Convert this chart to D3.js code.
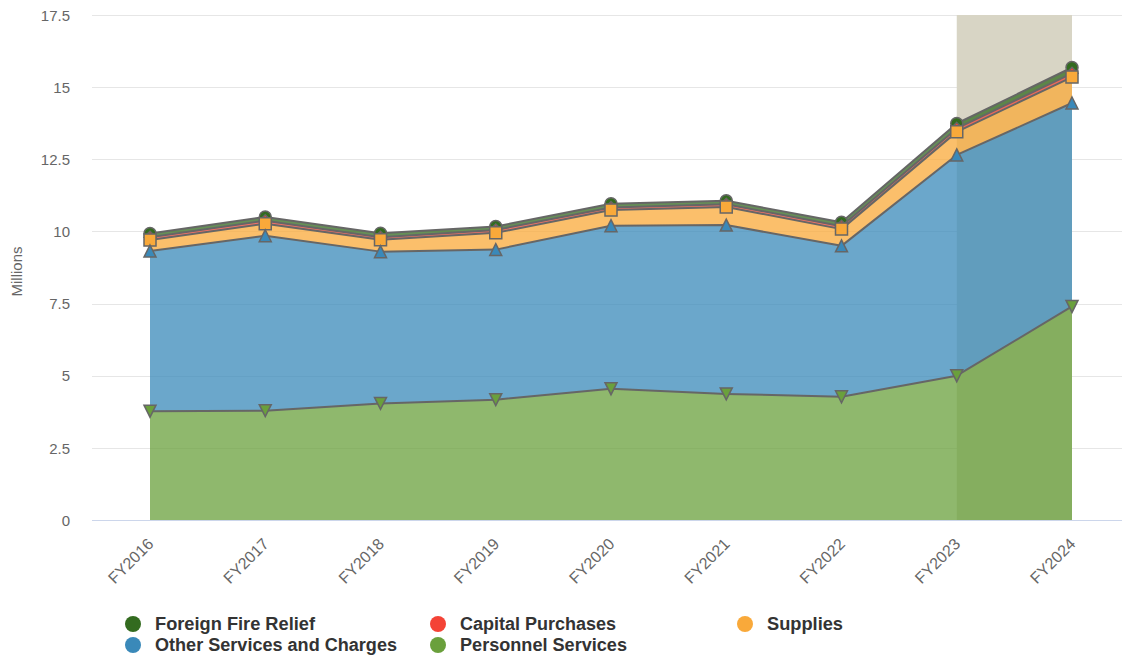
<!DOCTYPE html>
<html>
<head>
<meta charset="utf-8">
<script src="https://cdn.jsdelivr.net/npm/d3@7"></script>
<style>
  html, body { margin: 0; padding: 0; background: #ffffff; }
  svg { display: block; font-family: "Liberation Sans", Arial, Helvetica, sans-serif; }
</style>
</head>
<body>
<svg id="chart" width="1122" height="658"></svg>
<script>
// Fiscal years on the x axis
const categories = ["FY2016", "FY2017", "FY2018", "FY2019", "FY2020", "FY2021", "FY2022", "FY2023", "FY2024"];

// Spending by category, in millions (stacked from Personnel Services upward)
const personnelServices = [3.77, 3.79, 4.04, 4.17, 4.55, 4.37, 4.27, 5.00, 7.40];
const otherServices     = [5.55, 6.06, 5.26, 5.20, 5.65, 5.85, 5.23, 7.65, 7.05];
const supplies          = [0.38, 0.42, 0.41, 0.58, 0.54, 0.63, 0.58, 0.80, 0.90];
const capitalPurchases  = [0.10, 0.10, 0.09, 0.10, 0.09, 0.09, 0.10, 0.12, 0.13];
const foreignFireRelief = [0.13, 0.13, 0.14, 0.12, 0.13, 0.12, 0.14, 0.17, 0.20];

// Y axis ticks
const yTicks = [0, 2.5, 5, 7.5, 10, 12.5, 15, 17.5];
const yTickLabels = ["0", "2.5", "5", "7.5", "10", "12.5", "15", "17.5"];

// Highlighted span on the x axis
const bandRange = ["FY2023", "FY2024"];

// Series in legend order; the first listed sits at the top of the stack
const seriesList = [
  { name: "Foreign Fire Relief",        values: foreignFireRelief, color: "#336b1f", symbol: "circle" },
  { name: "Capital Purchases",          values: capitalPurchases,  color: "#f44336", symbol: "diamond" },
  { name: "Supplies",                   values: supplies,          color: "#f9a93a", symbol: "square" },
  { name: "Other Services and Charges", values: otherServices,     color: "#3a89b9", symbol: "triangle" },
  { name: "Personnel Services",         values: personnelServices, color: "#6aa03c", symbol: "triangle-down" }
];

const svg = d3.select("#chart");
const plot = { left: 92, right: 1130, top: 15, bottom: 520 };

const x = d3.scalePoint().domain(categories).range([150, 1072]);
const y = d3.scaleLinear().domain([0, 17.5]).range([plot.bottom, plot.top]);

// Stack bottom-up: Personnel first, Foreign Fire Relief last
const rows = categories.map((c, i) => {
  const r = { cat: c };
  seriesList.forEach(s => { r[s.name] = s.values[i]; });
  return r;
});
const stackKeys = seriesList.map(s => s.name).slice().reverse();
const stacked = d3.stack().keys(stackKeys)(rows);
const stackByName = {};
stacked.forEach(layer => { stackByName[layer.key] = layer; });

// Grid lines
const grid = svg.append("g");
grid.selectAll("line").data(yTicks.slice(1)).join("line")
  .attr("x1", plot.left).attr("x2", plot.right)
  .attr("y1", d => Math.round(y(d)) + 0.5).attr("y2", d => Math.round(y(d)) + 0.5)
  .attr("stroke", "#e6e6e6").attr("stroke-width", 1);

// Plot band
svg.append("rect")
  .attr("x", x(bandRange[0])).attr("width", x(bandRange[1]) - x(bandRange[0]))
  .attr("y", plot.top).attr("height", plot.bottom - plot.top)
  .attr("fill", "#d8d5c5");

// Y axis labels
const yAxis = svg.append("g").attr("transform", `translate(70,0)`)
  .call(d3.axisLeft(y).tickValues(yTicks).tickSize(0).tickPadding(0)
    .tickFormat((d, i) => yTickLabels[i]));
yAxis.select(".domain").remove();
yAxis.selectAll("text").attr("font-size", 15).attr("fill", "#666666")
  .attr("font-family", "Liberation Sans, Arial, sans-serif").attr("dy", "0.35em");

// Y axis title
svg.append("text")
  .attr("transform", `translate(22,${(plot.top + plot.bottom) / 2 + 4}) rotate(-90)`)
  .attr("text-anchor", "middle").attr("font-size", 15).attr("fill", "#666666")
  .text("Millions");

// Stacked areas, lines and markers
const area = d3.area().x(d => x(d.data.cat)).y0(d => y(d[0])).y1(d => y(d[1]));
const line = d3.line().x(d => x(d.data.cat)).y(d => y(d[1]));

const r = 6;
function symbolPath(kind) {
  switch (kind) {
    case "circle":
      return `M0,${-r}A${r},${r} 0 1 1 0,${r}A${r},${r} 0 1 1 0,${-r}Z`;
    case "diamond":
      return `M0,${-r}L${r},0L0,${r}L${-r},0Z`;
    case "square":
      return `M${-r},${-r}H${r}V${r}H${-r}Z`;
    case "triangle":
      return `M0,${-r}L${r},${r}H${-r}Z`;
    case "triangle-down":
      return `M${-r},${-r}H${r}L0,${r}Z`;
  }
}

const seriesLayer = svg.append("g");
seriesList.forEach(s => {
  const layer = stackByName[s.name];
  const g = seriesLayer.append("g");
  g.append("path").datum(layer).attr("d", area)
    .attr("fill", s.color).attr("fill-opacity", 0.75);
  g.append("path").datum(layer).attr("d", line)
    .attr("fill", "none").attr("stroke", "#666666").attr("stroke-width", 2)
    .attr("stroke-linejoin", "round");
  g.selectAll("path.marker").data(layer).join("path").attr("class", "marker")
    .attr("transform", d => `translate(${x(d.data.cat)},${y(d[1])})`)
    .attr("d", symbolPath(s.symbol))
    .attr("fill", s.color).attr("stroke", "#666666").attr("stroke-width", 1.5);
});

// X axis line and rotated labels
svg.append("line")
  .attr("x1", plot.left).attr("x2", plot.right)
  .attr("y1", plot.bottom + 0.5).attr("y2", plot.bottom + 0.5)
  .attr("stroke", "#ccd6eb").attr("stroke-width", 1);

const xAxis = svg.append("g").attr("transform", `translate(0,${plot.bottom})`)
  .call(d3.axisBottom(x).tickSize(0).tickPadding(0));
xAxis.select(".domain").remove();
xAxis.selectAll("text")
  .attr("font-size", 16).attr("fill", "#666666")
  .attr("font-family", "Liberation Sans, Arial, sans-serif")
  .attr("text-anchor", "end").attr("dy", null)
  .attr("transform", "translate(4,25) rotate(-45)");

// Legend
const legendPos = [
  [133, 624], [438, 624], [745, 624],
  [133, 645], [438, 645]
];
const legendWidths = [160, 156, 76, 242, 167];
const legend = svg.append("g");
seriesList.forEach((s, i) => {
  const [lx, ly] = legendPos[i];
  legend.append("circle").attr("cx", lx).attr("cy", ly).attr("r", 8).attr("fill", s.color);
  legend.append("text").attr("x", lx + 22).attr("y", ly + 6)
    .attr("font-weight", "bold").attr("font-size", 17.5).attr("fill", "#333333")
    .attr("textLength", legendWidths[i]).attr("lengthAdjust", "spacingAndGlyphs")
    .text(s.name);
});
</script>
</body>
</html>
